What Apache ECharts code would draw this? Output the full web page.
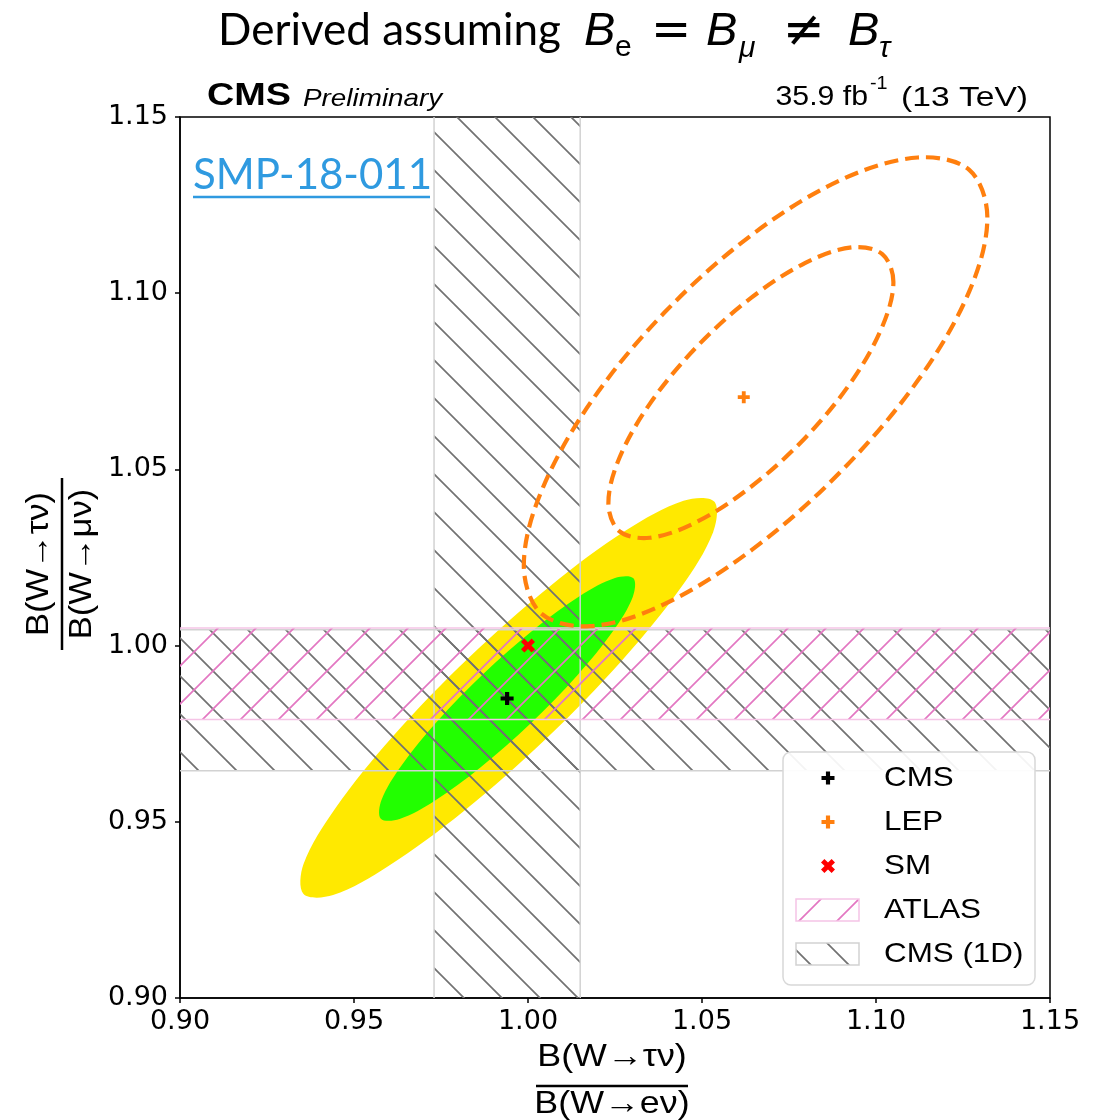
<!DOCTYPE html>
<html><head><meta charset="utf-8">
<script src="https://cdn.jsdelivr.net/npm/echarts@6.0.0/dist/echarts.min.js"></script>
<style>html,body{margin:0;padding:0;background:#fff}#c{width:1099px;height:1120px}</style>
</head><body><div id="c"></div>
<script>
// ---------------- data ----------------
const xTicks = [0.90, 0.95, 1.00, 1.05, 1.10, 1.15];
const yTicks = [0.90, 0.95, 1.00, 1.05, 1.10, 1.15];
const cmsPoint = [0.994, 0.985];
const lepPoint = [1.062, 1.0705];
const smPoint = [1.000, 1.000];
const cms1dX = [0.973, 1.015];     // CMS 1D band in tau/e
const cms1dY = [0.9645, 1.0045];   // CMS 1D band in tau/mu
const atlasY = [0.979, 1.005];     // ATLAS band in tau/mu
const cms95 = [[1.0535,1.0409],[1.0532,1.0322],[1.0439,1.0164],[1.0270,0.9958],[1.0051,0.9735],[0.9815,0.9530],[0.9598,0.9374],[0.9440,0.9292],[0.9355,0.9295],[0.9355,0.9380],[0.9446,0.9538],[0.9612,0.9743],[0.9829,0.9965],[1.0065,1.0170],[1.0282,1.0327],[1.0447,1.0411]];
const cms68 = [[1.0303,1.0191],[1.0301,1.0138],[1.0245,1.0042],[1.0142,0.9916],[1.0008,0.9780],[0.9864,0.9655],[0.9731,0.9559],[0.9631,0.9508],[0.9577,0.9509],[0.9579,0.9562],[0.9636,0.9659],[0.9738,0.9784],[0.9872,0.9920],[1.0016,1.0045],[1.0149,1.0141],[1.0250,1.0192]];
const lep95 = [[1.1320,1.1215],[1.1268,1.1350],[1.1120,1.1385],[1.0900,1.1322],[1.0645,1.1167],[1.0392,1.0945],[1.0180,1.0690],[1.0038,1.0437],[0.9988,1.0229],[1.0036,1.0093],[1.0178,1.0055],[1.0390,1.0117],[1.0645,1.0273],[1.0900,1.0495],[1.1120,1.0752],[1.1268,1.1005]];
const lep68 = [[1.1050,1.1032],[1.1018,1.1111],[1.0930,1.1130],[1.0797,1.1086],[1.0640,1.0986],[1.0483,1.0846],[1.0350,1.0686],[1.0262,1.0531],[1.0231,1.0404],[1.0262,1.0325],[1.0350,1.0306],[1.0483,1.0350],[1.0640,1.0450],[1.0797,1.0590],[1.0930,1.0750],[1.1018,1.0905]];
const legendNames = ['CMS', 'LEP', 'SM', 'ATLAS', 'CMS (1D)'];

// ---------------- styles ----------------
const GRAY_HATCH = '#727272', PINK_HATCH = '#e377c2';
const GRAY_EDGE = '#d2d2d2', PINK_EDGE = '#f5c4e6';
const ORANGE = '#ff7f0e';
function hatch(color, dir) {
  const s = 38, c = document.createElement('canvas');
  c.width = s; c.height = s;
  const g = c.getContext('2d');
  g.strokeStyle = color; g.lineWidth = 1.7; g.beginPath();
  for (let k = -2; k <= 2; k++) {
    if (dir === 'back') { const o = k * s + 36; g.moveTo(o - 3, -3); g.lineTo(o + s + 3, s + 3); }
    else { const o = k * s + 10; g.moveTo(o + 3, -3); g.lineTo(o - s - 3, s + 3); }
  }
  g.stroke();
  return { image: c, repeat: 'repeat' };
}
const grayPat = hatch(GRAY_HATCH, 'back');
const pinkPat = hatch(PINK_HATCH, 'fwd');

const PLUS = 'path://M3.4,0H6.6V3.4H10V6.6H6.6V10H3.4V6.6H0V3.4H3.4Z';

function contour(name, pts, style, z) {
  return {
    type: 'custom', name, z, silent: true, clip: true,
    data: [pts[0]],
    renderItem: (p, api) => ({
      type: 'polygon',
      shape: { points: pts.map(q => api.coord(q)), smooth: 0.34 },
      style
    })
  };
}
function vband(name, range, pat, edge, z) {
  return {
    type: 'custom', name, z, silent: true, clip: true, data: [range],
    renderItem: (p, api) => {
      const cs = p.coordSys;
      const xa = api.coord([range[0], yTicks[0]])[0], xb = api.coord([range[1], yTicks[0]])[0];
      return { type: 'group', children: [
        { type: 'rect', shape: { x: xa, y: cs.y, width: xb - xa, height: cs.height }, style: { fill: pat } },
        { type: 'line', shape: { x1: xa, y1: cs.y, x2: xa, y2: cs.y + cs.height }, style: { stroke: edge, lineWidth: 1.5 } },
        { type: 'line', shape: { x1: xb, y1: cs.y, x2: xb, y2: cs.y + cs.height }, style: { stroke: edge, lineWidth: 1.5 } }
      ]};
    }
  };
}
function hband(name, range, pat, edge, z) {
  return {
    type: 'custom', name, z, silent: true, clip: true, data: [range],
    renderItem: (p, api) => {
      const cs = p.coordSys;
      const ya = api.coord([xTicks[0], range[1]])[1], yb = api.coord([xTicks[0], range[0]])[1];
      return { type: 'group', children: [
        { type: 'rect', shape: { x: cs.x, y: ya, width: cs.width, height: yb - ya }, style: { fill: pat } },
        { type: 'line', shape: { x1: cs.x, y1: ya, x2: cs.x + cs.width, y2: ya }, style: { stroke: edge, lineWidth: 1.5 } },
        { type: 'line', shape: { x1: cs.x, y1: yb, x2: cs.x + cs.width, y2: yb }, style: { stroke: edge, lineWidth: 1.5 } }
      ]};
    }
  };
}

// ---------------- graphic helpers ----------------
function txt(text, x, y, o) {
  o = o || {};
  return {
    type: 'text', x, y, z: 100, scaleX: o.sx || 1, scaleY: o.sy || 1, rotation: o.rot || 0,
    style: {
      text, fill: o.color || '#000', fontSize: o.size || 28, fontFamily: o.family || 'Liberation Sans',
      fontWeight: o.weight || 'normal', fontStyle: o.style || 'normal',
      align: o.align || 'left', textAlign: o.align || 'left',
      verticalAlign: o.va || 'middle', textVerticalAlign: o.va || 'middle'
    }
  };
}
function plusPoly(cx, cy, size, rot, color) {
  const h = size / 2, t = size * 0.16;
  const base = [[-t,-h],[t,-h],[t,-t],[h,-t],[h,t],[t,t],[t,h],[-t,h],[-t,t],[-h,t],[-h,-t],[-t,-t]];
  const c = Math.cos(rot), s = Math.sin(rot);
  return { type: 'polygon', z: 101, shape: { points: base.map(([a, b]) => [cx + a * c - b * s, cy + a * s + b * c]) }, style: { fill: color } };
}

const legendRows = [778, 822, 866, 910, 954];
const graphics = [
  // title
  txt('Derived assuming', 218, 31, { size: 44, family: 'Lato' }),
  txt('B', 584, 32, { size: 47, style: 'italic' }),
  txt('e', 615, 48, { size: 30 }),
  txt('=', 651, 33, { size: 48, family: 'DejaVu Sans' }),
  txt('B', 706, 32, { size: 47, style: 'italic' }),
  txt('μ', 739, 49, { size: 30, style: 'italic' }),
  txt('≠', 783, 33, { size: 50, family: 'DejaVu Sans' }),
  txt('B', 848, 32, { size: 47, style: 'italic' }),
  txt('τ', 879, 49, { size: 30, style: 'italic' }),
  // CMS label
  txt('CMS', 207, 96, { size: 31, weight: 'bold', sx: 1.22 }),
  txt('Preliminary', 303, 99, { size: 24, style: 'italic', sx: 1.16 }),
  txt('35.9 fb', 868, 98, { size: 27, align: 'right', sx: 1.12 }),
  txt('-1', 870, 84, { size: 18, sx: 1.1 }),
  txt('(13 TeV)', 1028, 98, { size: 28, align: 'right', sx: 1.2 }),
  // SMP link
  txt('SMP-18-011', 193, 175, { size: 42, family: 'Lato', color: '#2f9ae0' }),
  { type: 'line', z: 100, shape: { x1: 193, y1: 197, x2: 430, y2: 197 }, style: { stroke: '#2f9ae0', lineWidth: 2.5 } },
  // x axis title
  txt('B(W→τν)', 612, 1057, { size: 32, align: 'center', sx: 1.12 }),
  { type: 'line', z: 100, shape: { x1: 536, y1: 1086, x2: 688, y2: 1086 }, style: { stroke: '#000', lineWidth: 2.5 } },
  txt('B(W→eν)', 612, 1104, { size: 32, align: 'center', sx: 1.12 }),
  // y axis title
  { type: 'group', x: 62, y: 564, rotation: Math.PI / 2, z: 100, children: [
    txt('B(W→τν)', 0, -23, { size: 32, align: 'center', sx: 1.08 }),
    { type: 'line', z: 100, shape: { x1: -86, y1: 0, x2: 86, y2: 0 }, style: { stroke: '#000', lineWidth: 2.5 } },
    txt('B(W→μν)', 0, 20, { size: 32, align: 'center', sx: 1.08 })
  ]},
  // legend box
  { type: 'rect', z: 99, shape: { x: 783, y: 752, width: 252, height: 233, r: 8 }, style: { fill: 'rgba(255,255,255,0.92)', stroke: '#d8d8d8', lineWidth: 1.5 } },
  plusPoly(828, legendRows[0], 13, 0, '#000'),
  plusPoly(828, legendRows[1], 13, 0, ORANGE),
  plusPoly(828, legendRows[2], 15, Math.PI / 4, '#ff0000'),
  { type: 'rect', z: 101, shape: { x: 796, y: legendRows[3] - 11, width: 63, height: 22 }, style: { fill: pinkPat, stroke: PINK_EDGE, lineWidth: 1.5 } },
  { type: 'rect', z: 101, shape: { x: 796, y: legendRows[4] - 11, width: 63, height: 22 }, style: { fill: grayPat, stroke: GRAY_EDGE, lineWidth: 1.5 } }
];
legendNames.forEach((n, i) => graphics.push(txt(n, 884, legendRows[i], { size: 28, sx: 1.12 })));

const axisCommon = {
  type: 'value',
  axisLine: { show: true, lineStyle: { color: '#000', width: 1.5 } },
  axisTick: { show: true, length: 5, lineStyle: { color: '#000', width: 1.5 } },
  splitLine: { show: false },
  axisLabel: { color: '#000', fontSize: 27, fontFamily: 'DejaVu Sans', formatter: v => v.toFixed(2) }
};

const chart = echarts.init(document.getElementById('c'), null, { renderer: 'canvas' });
chart.setOption({
  backgroundColor: '#fff',
  animation: false,
  grid: { left: 180, right: 49, top: 117, bottom: 122, show: true, borderColor: '#000', borderWidth: 1.5 },
  xAxis: Object.assign({}, axisCommon, {
    min: xTicks[0], max: xTicks[xTicks.length - 1], interval: 0.05,
    axisLabel: Object.assign({}, axisCommon.axisLabel, { margin: 10 })
  }),
  yAxis: Object.assign({}, axisCommon, {
    min: yTicks[0], max: yTicks[yTicks.length - 1], interval: 0.05,
    axisLabel: Object.assign({}, axisCommon.axisLabel, { margin: 12 })
  }),
  graphic: { elements: graphics },
  series: [
    contour('CMS 95%', cms95, { fill: '#ffe900' }, 1),
    contour('CMS 68%', cms68, { fill: '#22ff00' }, 2),
    vband('CMS (1D) x', cms1dX, grayPat, GRAY_EDGE, 3),
    hband('CMS (1D) y', cms1dY, grayPat, GRAY_EDGE, 3),
    hband('ATLAS', atlasY, pinkPat, PINK_EDGE, 3),
    contour('LEP 95%', lep95, { fill: 'none', stroke: ORANGE, lineWidth: 4.2, lineDash: [14, 7] }, 4),
    contour('LEP 68%', lep68, { fill: 'none', stroke: ORANGE, lineWidth: 4.2, lineDash: [14, 7] }, 4),
    { type: 'scatter', name: 'CMS', z: 5, symbol: PLUS, symbolSize: 13, itemStyle: { color: '#000', opacity: 1 }, data: [cmsPoint] },
    { type: 'scatter', name: 'LEP', z: 5, symbol: PLUS, symbolSize: 12, itemStyle: { color: ORANGE, opacity: 1 }, data: [lepPoint] },
    { type: 'scatter', name: 'SM', z: 5, symbol: PLUS, symbolSize: 15, symbolRotate: 45, itemStyle: { color: '#ff0000', opacity: 1 }, data: [smPoint] }
  ]
});
</script></body></html>
